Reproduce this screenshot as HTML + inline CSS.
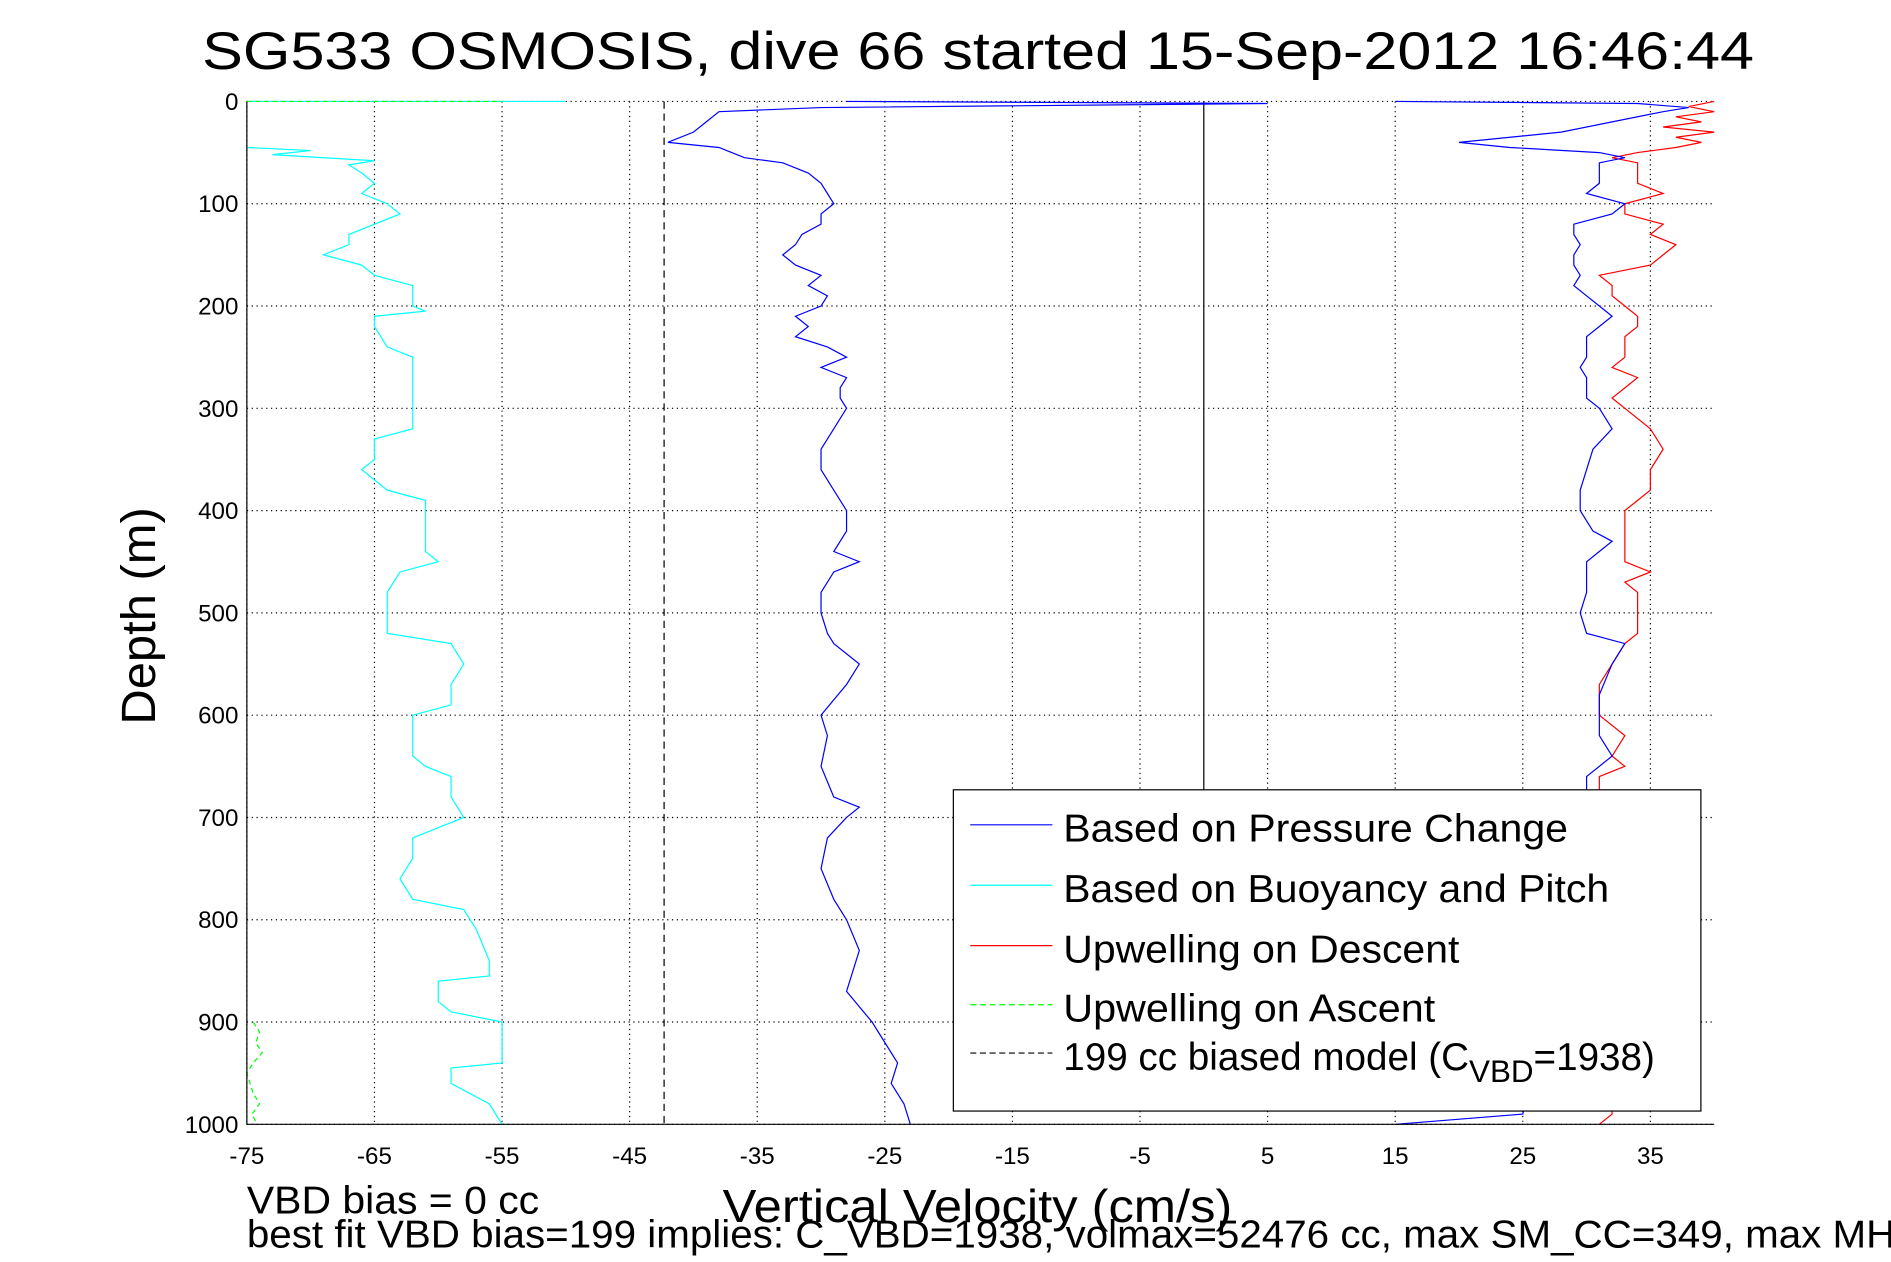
<!DOCTYPE html>
<html><head><meta charset="utf-8"><style>
html,body{margin:0;padding:0;background:#fff;}
svg{display:block;font-family:"Liberation Sans",sans-serif;}
</style></head><body>
<svg id="chart" width="1891" height="1262" viewBox="0 0 1565 1045" xmlns="http://www.w3.org/2000/svg">
<rect x="0" y="0" width="1565" height="1045" fill="#fff"/>
<g id="grid"></g>
<g id="series"></g>
<g id="axes"></g>
<text x="167" y="57" font-size="44" textLength="1285" lengthAdjust="spacingAndGlyphs">SG533 OSMOSIS, dive 66 started 15-Sep-2012 16:46:44</text>
<text transform="translate(128,510) rotate(-90)" text-anchor="middle" font-size="40" textLength="180" lengthAdjust="spacingAndGlyphs">Depth (m)</text>
<text x="598" y="1012" font-size="38" textLength="422" lengthAdjust="spacingAndGlyphs">Vertical Velocity (cm/s)</text>
<text x="204" y="1005" font-size="32" textLength="242" lengthAdjust="spacingAndGlyphs">VBD bias = 0 cc</text>
<text x="204" y="1033" font-size="32" textLength="1365" lengthAdjust="spacingAndGlyphs">best fit VBD bias=199 implies: C_VBD=1938, volmax=52476 cc, max SM_CC=349, max MH</text>
<g id="legend"></g>
</svg>
<script>
const xTicks=[-75,-65,-55,-45,-35,-25,-15,-5,5,15,25,35];
const yTicks=[0,100,200,300,400,500,600,700,800,900,1000];
const biasModel=-42.3;
const pressDepth=[0,2,6,10,20,30,40,45,50,55,60,70,80,90,100,110,120,130,140,150,160,170,180,190,200,210,220,230,240,250,260,270,280,290,300,320,340,360,380,400,420,440,450,460,480,500,520,530,550,570,600,620,650,680,690,700,720,750,780,800,830,850,870,900,920,940,960,980,1000];
const pressDesc=[-28,5,-30,-38,-39,-40,-42,-38,-37,-36,-33,-31,-30,-29.5,-29,-30,-30,-31.5,-32,-33,-32,-30,-31,-29.5,-30,-32,-31,-32,-29.5,-28,-30,-28,-28.5,-28.5,-28,-29,-30,-30,-29,-28,-28,-29,-27,-29,-30,-30,-29.5,-29,-27,-28,-30,-29.5,-30,-29,-27,-28,-29.5,-30,-29,-28,-27,-27.5,-28,-26,-25,-24,-24.5,-23.5,-23];
const ascDepth=[0,2,6,10,20,30,40,45,50,55,60,70,80,90,100,110,120,130,140,150,160,170,180,190,200,210,220,230,240,250,260,270,280,290,300,320,340,360,380,400,420,430,440,450,480,500,520,530,550,580,600,620,640,660,680,700,990,1000];
const ascVel=[15,34,38,36,32,28,20,24,31,33,31,31,31,30,33,32,29,29,29.5,29,29,29.5,29,30,31,32,31,30,30,30,29.5,30,30,30,31,32,30.5,30,29.5,29.5,30.5,32,31,30,30,29.5,30,33,32,31,31,31,32,30,30,30,25,15];
const upDepth=[0,5,10,15,20,25,30,35,40,45,50,55,60,70,80,90,100,110,120,130,140,150,160,170,180,190,200,210,220,230,240,250,260,270,280,290,300,320,340,360,380,390,400,420,440,450,460,470,480,500,520,530,550,570,600,620,640,650,660,680,990,1000];
const upVel=[40,38,40,37,39,36,40,37,39,37,34,32,34,34,34,36,33,33,36,35,37,36,35,31,32,32,33,34,34,33,33,33,32,34,33,32,33,35,36,35,35,34,33,33,33,33,35,33,34,34,34,33,32,31,31,33,32,33,31,31,32,31];
const buoyTopDepth=[0,0];
const buoyTopVel=[-75,-50];
const buoyDepth=[45,48,52,58,62,70,80,90,100,110,120,130,140,150,160,170,180,190,200,205,210,220,240,250,260,280,300,320,330,350,360,380,390,400,420,440,450,460,480,500,520,530,550,570,590,600,620,640,650,660,680,700,720,740,760,780,790,810,840,855,860,880,890,900,920,940,945,960,980,1000];
const buoyVel=[-75,-70,-73,-65,-67,-66,-65,-66,-64,-63,-65,-67,-67,-69,-66,-65,-62,-62,-62,-61,-65,-65,-64,-62,-62,-62,-62,-62,-65,-65,-66,-64,-61,-61,-61,-61,-60,-63,-64,-64,-64,-59,-58,-59,-59,-62,-62,-62,-61,-59,-59,-58,-62,-62,-63,-62,-58,-57,-56,-56,-60,-60,-59,-55,-55,-55,-59,-59,-56,-55];
const ascentDepth=[900,910,920,930,940,950,970,980,990,1000];
const ascentVel=[-74.5,-74,-74.3,-73.8,-74.5,-75,-74.5,-74,-74.6,-74.2];
const topGreenDepth=[0,0];
const topGreenVel=[-75,-55];
const legendLabels=["Based on Pressure Change","Based on Buoyancy and Pitch","Upwelling on Descent","Upwelling on Ascent","199 cc biased model (C"];

const X0=204,X1=1419,Y0=84,Y1=931;
const xmin=-75,xmax=40,ymin=0,ymax=1000;
const sx=v=>X0+(v-xmin)/(xmax-xmin)*(X1-X0);
const sy=d=>Y0+(d-ymin)/(ymax-ymin)*(Y1-Y0);
const NS="http://www.w3.org/2000/svg";
function mk(tag,attrs,parent){const e=document.createElementNS(NS,tag);for(const k in attrs)e.setAttribute(k,attrs[k]);parent.appendChild(e);return e;}
const grid=document.getElementById('grid'),axes=document.getElementById('axes'),ser=document.getElementById('series'),leg=document.getElementById('legend');
xTicks.forEach(t=>{
 const l=mk('line',{x1:sx(t),x2:sx(t),y1:Y0,y2:Y1,stroke:'#000','stroke-width':1,'stroke-dasharray':'1,3'},grid);
 
 
 const tx=mk('text',{x:sx(t),y:964,'font-size':20,'text-anchor':'middle'},axes);tx.textContent=t;
 
 
});
yTicks.forEach(t=>{
 const l=mk('line',{x1:X0,x2:X1,y1:sy(t),y2:sy(t),stroke:'#000','stroke-width':1,'stroke-dasharray':'1,3'},grid);
 
 
 const tx=mk('text',{x:197,y:sy(t)+7,'font-size':20,'text-anchor':'end'},axes);tx.textContent=t;
 
 
});
const frame=mk('path',{d:`M${X0},${Y0}V${Y1}H${X1}`,fill:'none',stroke:'#000','stroke-width':1},axes);


function line(ds,vs,color,name,dash){
 const p=mk('polyline',{points:ds.map((d,i)=>sx(vs[i])+','+sy(d)).join(' '),fill:'none',stroke:color,'stroke-width':1},ser);
 if(dash)p.setAttribute('stroke-dasharray',dash);
 
 
}
const bm=mk('line',{x1:sx(biasModel),x2:sx(biasModel),y1:Y0,y2:Y1,stroke:'#000','stroke-width':1,'stroke-dasharray':'6,4'},ser);


const zl=mk('line',{x1:sx(0),x2:sx(0),y1:Y0,y2:654,stroke:'#000','stroke-width':1},ser);


line(buoyTopDepth,buoyTopVel,'#00ffff','buoyancy-pitch-top');
line(buoyDepth,buoyVel,'#00ffff','buoyancy-pitch-line');
line(upDepth,upVel,'#ff0000','upwelling-descent-line');
line(pressDepth,pressDesc,'#0000ff','pressure-descent-line');
line(ascDepth,ascVel,'#0000ff','pressure-ascent-line');
line(ascentDepth,ascentVel,'#00ff00','upwelling-ascent-line','4,3');
line(topGreenDepth,topGreenVel,'#00ff00','upwelling-ascent-top','4,3');
const box=mk('rect',{x:789,y:654,width:619,height:266,fill:'#fff',stroke:'#000','stroke-width':1},leg);


const cols=['#0000ff','#00ffff','#ff0000','#00ff00','#000'];
const dashes=[null,null,null,'5,3','5,3'];
const ys=[687,737,787,836,876];
const widths=[418,452,328,308,0];
legendLabels.forEach((lab,i)=>{
 const l=mk('line',{x1:803,x2:871,y1:ys[i]-4,y2:ys[i]-4,stroke:cols[i],'stroke-width':1},leg);
 if(dashes[i])l.setAttribute('stroke-dasharray',dashes[i]);
 
 
 const t=mk('text',{x:880,y:ys[i]+10,'font-size':32},leg);
 if(i<4){t.textContent=lab;t.setAttribute('textLength',widths[i]);t.setAttribute('lengthAdjust','spacingAndGlyphs');}
 else{
  t.textContent=lab;
  const s=mk('tspan',{dy:10,'font-size':26},t);s.textContent='VBD';
  const r=mk('tspan',{dy:-10},t);r.textContent='=1938)';
 }
 
 
});
</script>
</body></html>
